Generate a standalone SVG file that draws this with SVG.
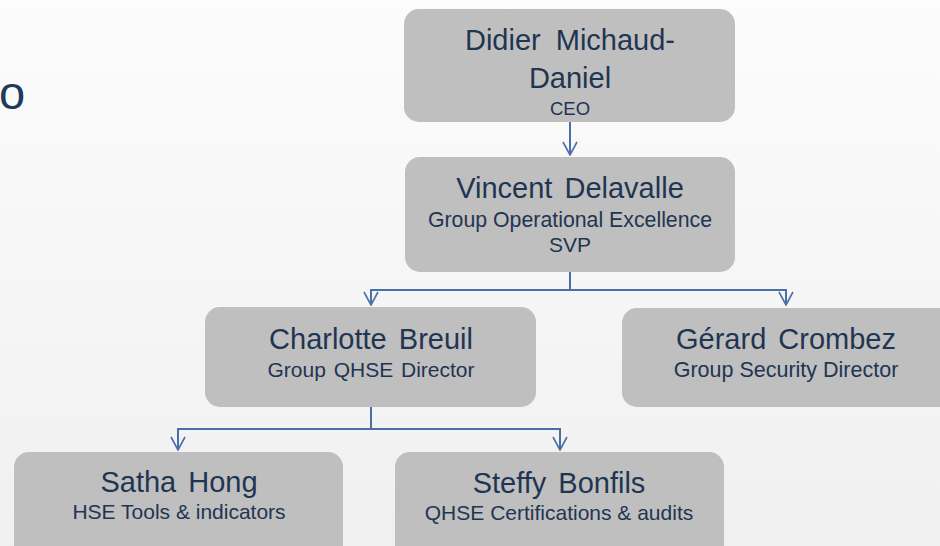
<svg xmlns="http://www.w3.org/2000/svg" width="940" height="546" viewBox="0 0 940 546">
<defs>
<linearGradient id="bg" x1="0" y1="0" x2="0" y2="1">
<stop offset="0" stop-color="#fcfcfc"/>
<stop offset="1" stop-color="#f0f0f0"/>
</linearGradient>
<marker id="arr" viewBox="0 0 16 16" refX="15" refY="8" markerWidth="16" markerHeight="16" markerUnits="userSpaceOnUse" orient="auto">
<path d="M2,1 L15,8 L2,15" fill="none" stroke="#4a6fa8" stroke-width="1.6"/>
</marker>
<style>
.box{fill:#bfbfbf;}
.t{font-family:"Liberation Sans",Arial,sans-serif;fill:#1f3552;text-anchor:middle;}
.n{font-size:29px;word-spacing:4px;}
.s{font-size:21px;}
.c{fill:none;stroke:#4a6fa8;stroke-width:2;}
</style>
</defs>
<rect width="940" height="546" fill="url(#bg)"/>
<text x="-1" y="109" style="font-family:'Liberation Sans',Arial,sans-serif;font-size:47px;fill:#1f3a5a">o</text>
<g id="connectors">
<path class="c" d="M570,122 V155" marker-end="url(#arr)"/>
<path class="c" d="M570,272 V290 H371 V305" marker-end="url(#arr)"/>
<path class="c" d="M570,290 H786 V305" marker-end="url(#arr)"/>
<path class="c" d="M371,407 V429 H178 V450" marker-end="url(#arr)"/>
<path class="c" d="M371,429 H560 V450" marker-end="url(#arr)"/>
</g>
<g id="ceo">
<rect class="box" x="404" y="9" width="331" height="113" rx="15"/>
<text class="t n" x="570" y="50" style="word-spacing:7px">Didier Michaud-</text>
<text class="t n" x="570" y="88">Daniel</text>
<text class="t" x="570" y="115" style="font-size:18.5px">CEO</text>
</g>
<g id="vincent">
<rect class="box" x="405" y="157" width="330" height="115" rx="15"/>
<text class="t n" x="570" y="198">Vincent Delavalle</text>
<text class="t s" x="570" y="227" style="font-size:21.3px">Group Operational Excellence</text>
<text class="t s" x="570" y="252">SVP</text>
</g>
<g id="charlotte">
<rect class="box" x="205" y="307" width="331" height="100" rx="15"/>
<text class="t n" x="371" y="349">Charlotte Breuil</text>
<text class="t s" x="371" y="377" style="word-spacing:2px">Group QHSE  Director</text>
</g>
<g id="gerard">
<rect class="box" x="622" y="308" width="340" height="99" rx="15"/>
<text class="t n" x="786" y="349">Gérard Crombez</text>
<text class="t s" x="786" y="377" style="font-size:21.5px">Group Security Director</text>
</g>
<g id="satha">
<rect class="box" x="14" y="452" width="329" height="120" rx="15"/>
<text class="t n" x="179" y="492">Satha Hong</text>
<text class="t s" x="179" y="519">HSE Tools &amp; indicators</text>
</g>
<g id="steffy">
<rect class="box" x="395" y="452" width="329" height="120" rx="15"/>
<text class="t n" x="559" y="493">Steffy Bonfils</text>
<text class="t s" x="559" y="520">QHSE Certifications &amp; audits</text>
</g>
</svg>
